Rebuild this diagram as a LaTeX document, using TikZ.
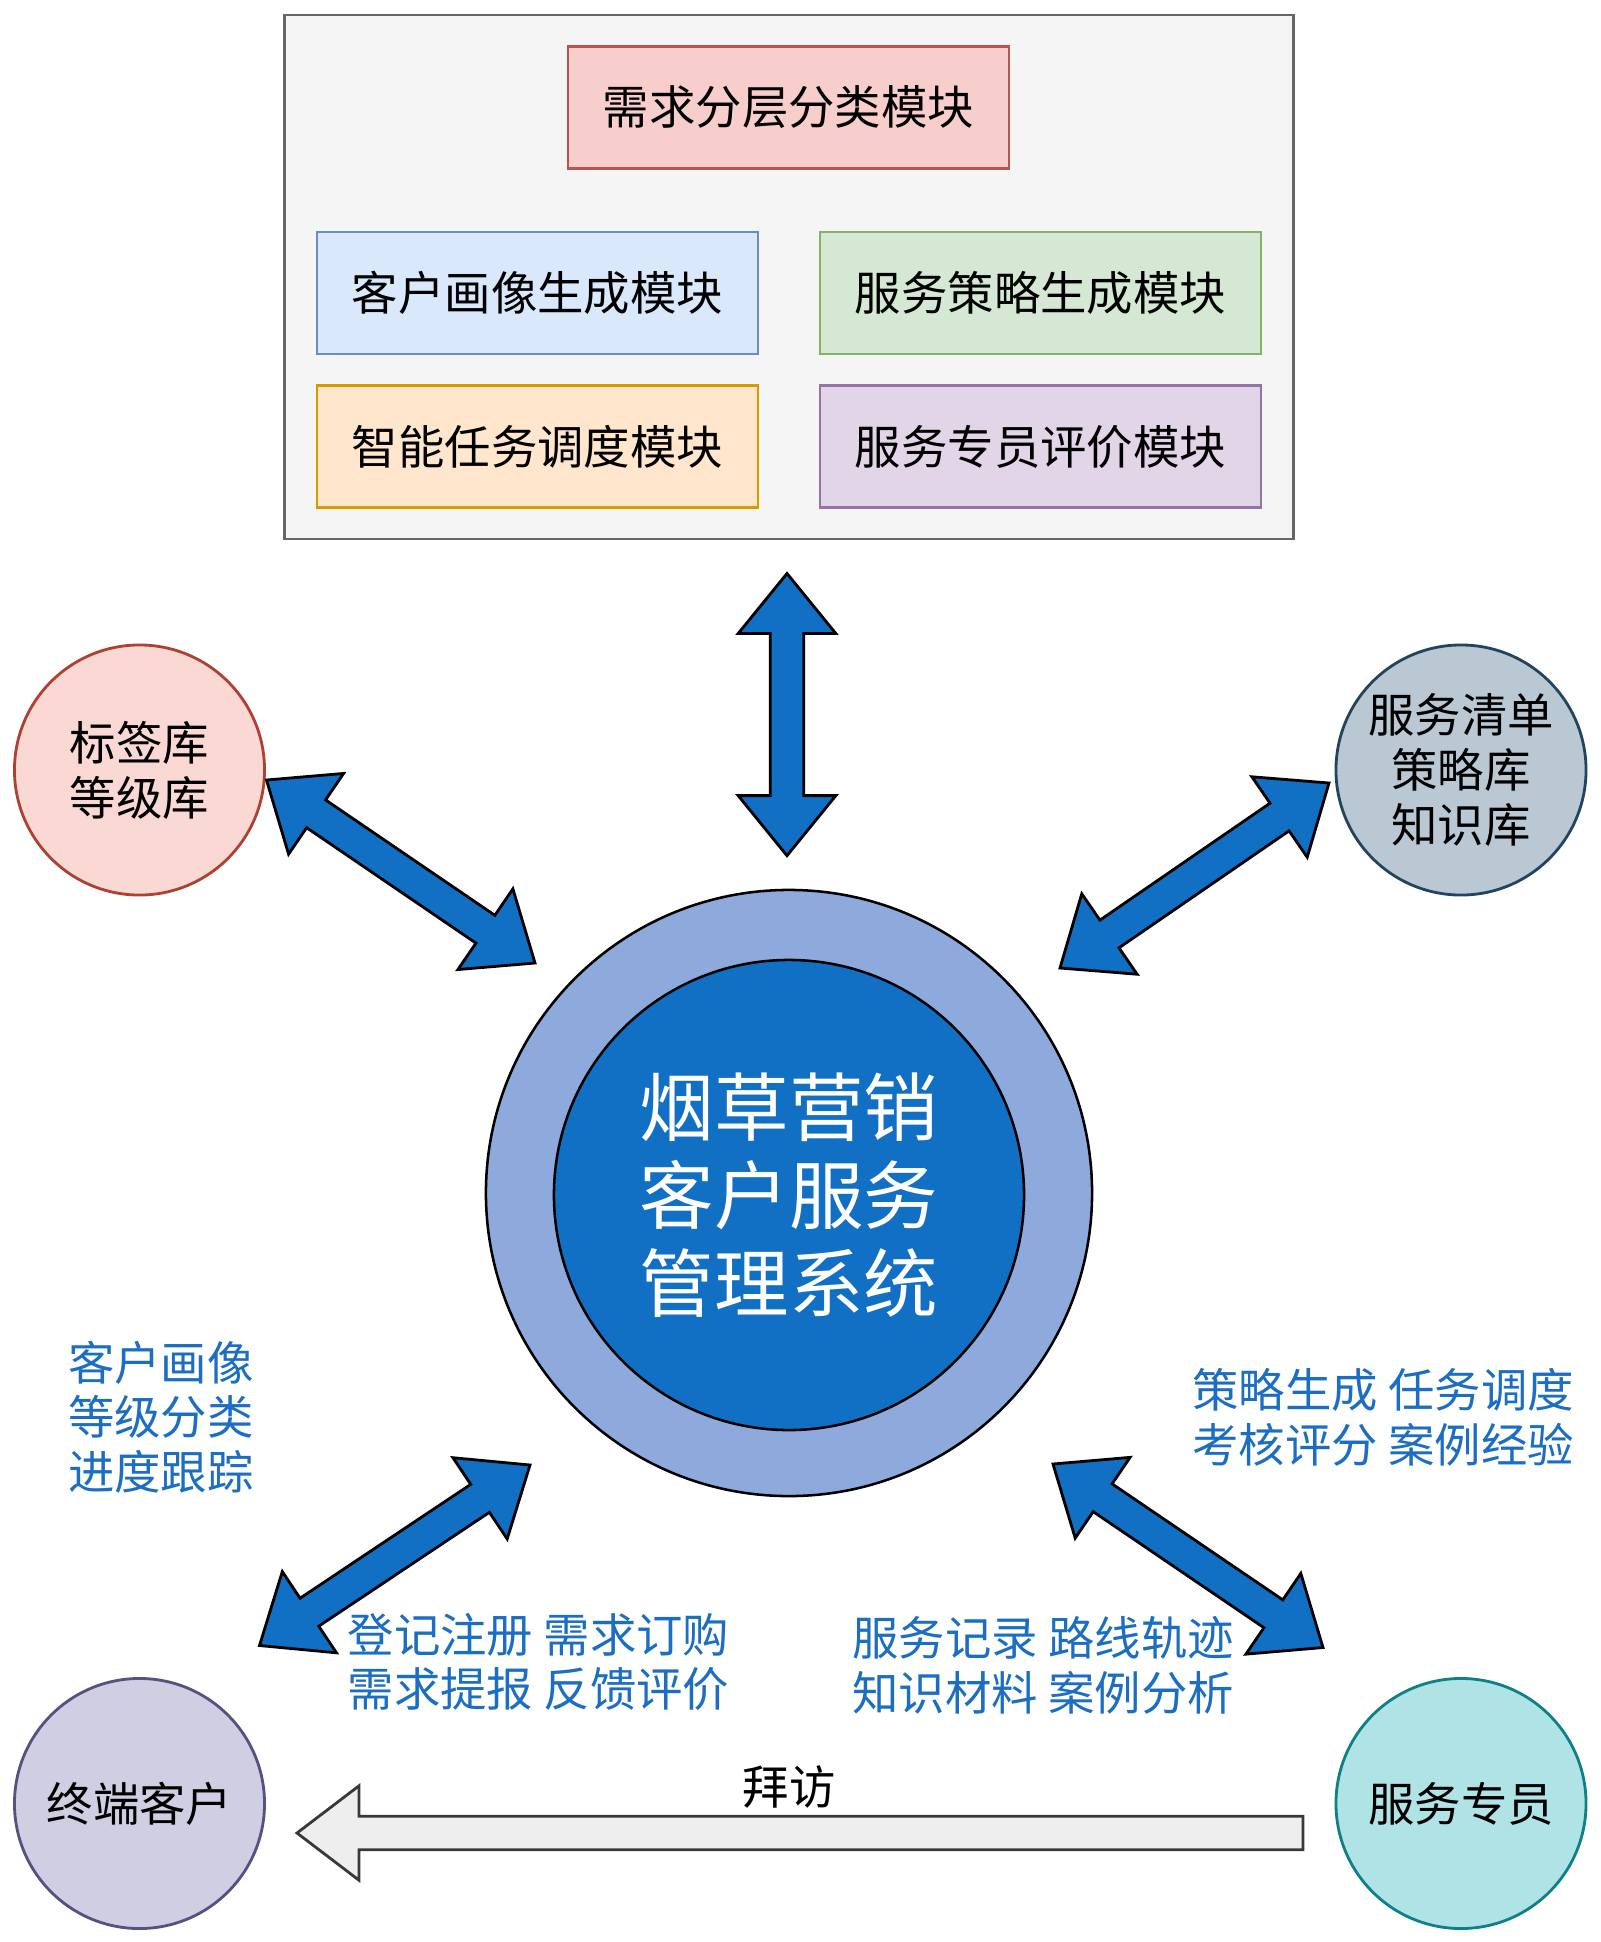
\documentclass[tikz,border=0pt]{standalone}
\usepackage{fontspec}
\setmainfont{Noto Sans CJK SC}
\usetikzlibrary{calc}

\definecolor{framefill}{HTML}{F5F5F5}
\definecolor{framegray}{HTML}{666666}
\definecolor{sysblue}{HTML}{1170C4}
\definecolor{ringblue}{HTML}{8EA9DB}
\definecolor{noteblue}{HTML}{1B6EC2}
\definecolor{visitgray}{HTML}{EEEEEE}
\definecolor{visitline}{HTML}{36393D}
\definecolor{redline}{HTML}{B85450}
\definecolor{redfill}{HTML}{F8CECC}
\definecolor{blueline}{HTML}{6C8EBF}
\definecolor{bluefill}{HTML}{DAE8FC}
\definecolor{greenline}{HTML}{82B366}
\definecolor{greenfill}{HTML}{D5E8D4}
\definecolor{orangeline}{HTML}{D79B00}
\definecolor{orangefill}{HTML}{FFE6CC}
\definecolor{purpleline}{HTML}{9673A6}
\definecolor{purplefill}{HTML}{E1D5E7}
\definecolor{libline}{HTML}{AE4132}
\definecolor{libfill}{HTML}{FAD9D5}
\definecolor{stockline}{HTML}{23445D}
\definecolor{stockfill}{HTML}{BAC8D3}
\definecolor{custline}{HTML}{56517E}
\definecolor{custfill}{HTML}{D0CEE2}
\definecolor{staffline}{HTML}{0E8088}
\definecolor{stafffill}{HTML}{B0E3E6}

% fat double arrow between two named points
\newcommand{\fatarrow}[3][]{%
  \draw[fat,#1] let \p1=($(#3)-(#2)$), \n1={atan2(\y1,\x1)},
      \n2={\n1+90}, \n3={\n1-90}, \n4={\n1+180} in
    (#2) -- ($(#2)+(\n1:1.5cm)+(\n2:1.22cm)$) -- ($(#2)+(\n1:1.5cm)+(\n2:0.42cm)$)
    -- ($(#3)+(\n4:1.5cm)+(\n2:0.42cm)$) -- ($(#3)+(\n4:1.5cm)+(\n2:1.22cm)$)
    -- (#3) -- ($(#3)+(\n4:1.5cm)+(\n3:1.22cm)$) -- ($(#3)+(\n4:1.5cm)+(\n3:0.42cm)$)
    -- ($(#2)+(\n1:1.5cm)+(\n3:0.42cm)$) -- ($(#2)+(\n1:1.5cm)+(\n3:1.22cm)$) -- cycle;
}
% fat single arrow, tail at #2, tip at #3
\newcommand{\tailarrow}[3][]{%
  \draw[fat,#1] let \p1=($(#3)-(#2)$), \n1={atan2(\y1,\x1)},
      \n2={\n1+90}, \n3={\n1-90}, \n4={\n1+180} in
    ($(#2)+(\n2:0.42cm)$) -- ($(#3)+(\n4:1.55cm)+(\n2:0.42cm)$)
    -- ($(#3)+(\n4:1.55cm)+(\n2:1.18cm)$) -- (#3)
    -- ($(#3)+(\n4:1.55cm)+(\n3:1.18cm)$) -- ($(#3)+(\n4:1.55cm)+(\n3:0.42cm)$)
    -- ($(#2)+(\n3:0.42cm)$) -- cycle;
}

\begin{document}
\begin{tikzpicture}[x=0.025cm, y=-0.025cm,
    every node/.style={font=\fontsize{33}{39}\selectfont},
    frame/.style={draw=framegray, fill=framefill, line width=2pt,
                  minimum width=25.2cm, minimum height=13.1cm},
    module/.style 2 args={draw=#1, fill=#2, line width=1.5pt,
                  minimum width=11.03cm, minimum height=3.05cm},
    store/.style 2 args={circle, draw=#1, fill=#2, line width=2pt,
                  minimum size=6.25cm, inner sep=0pt, align=center},
    ring/.style={circle, draw=black, fill=ringblue, line width=1.8pt,
                  minimum size=15.15cm},
    core/.style={circle, draw=black, fill=sysblue, line width=1.8pt,
                  minimum size=11.75cm, text=white, align=center,
                  font=\fontsize{53}{62.6}\selectfont},
    note/.style={text=noteblue, align=left},
    fat/.style={draw=black, fill=sysblue, line width=2pt, line join=miter},
  ]
  \useasboundingbox (0,0) rectangle (1600,1942);

  % module frame
  \node[frame] (frame) at (789,277) {};
  \node[module={redline}{redfill}]       (need)     at (788.5,107.5) {需求分层分类模块};
  \node[module={blueline}{bluefill}]     (portrait) at (537.5,293)   {客户画像生成模块};
  \node[module={greenline}{greenfill}]   (strategy) at (1040.5,293)  {服务策略生成模块};
  \node[module={orangeline}{orangefill}] (dispatch) at (537.5,446.5) {智能任务调度模块};
  \node[module={purpleline}{purplefill}] (evaluate) at (1040.5,446.5){服务专员评价模块};

  % system in the middle
  \node[ring] (ring) at (789,1193) {};
  \node[core] (sys)  at (789,1195) {烟草营销\\客户服务\\管理系统};

  % libraries and roles
  \node[store={libline}{libfill}]     (lib)   at (139.5,770)   {标签库\\等级库};
  \node[store={stockline}{stockfill}] (stock) at (1461,770)    {服务清单\\策略库\\知识库};
  \node[store={custline}{custfill}]   (cust)  at (139.5,1803.5){终端客户};
  \node[store={staffline}{stafffill}] (staff) at (1461,1803.5) {服务专员};

  % notes
  \node[note] (n1) at (161,1417)  {客户画像\\等级分类\\进度跟踪};
  \node[note] (n2) at (538.5,1662){登记注册 需求订购\\需求提报 反馈评价};
  \node[note] (n3) at (1043,1665) {服务记录 路线轨迹\\知识材料 案例分析};
  \node[note] (n4) at (1383,1417) {策略生成 任务调度\\考核评分 案例经验};

  % arrow ends
  \coordinate (upA) at ($(frame.south)+(-2,33)$);
  \coordinate (upB) at ($(ring.north)+(-2,-33)$);
  \coordinate (tlA) at ($(lib)+(127,10)$);
  \coordinate (tlB) at ($(ring)+(-254,-230)$);
  \coordinate (trA) at ($(stock)+(-132,13)$);
  \coordinate (trB) at ($(ring)+(271,-225)$);
  \coordinate (blA) at ($(cust)+(120,-158)$);
  \coordinate (blB) at ($(ring)+(-259,272)$);
  \coordinate (brA) at ($(ring)+(264,271)$);
  \coordinate (brB) at ($(staff)+(-138,-156)$);
  \coordinate (vA)  at ($(staff)+(-158,29.5)$);
  \coordinate (vB)  at ($(cust)+(157.5,29.5)$);

  \fatarrow{upA}{upB}
  \fatarrow{tlA}{tlB}
  \fatarrow{trA}{trB}
  \fatarrow{blA}{blB}
  \fatarrow{brA}{brB}
  \tailarrow[fill=visitgray, draw=visitline]{vA}{vB}
  \node (visit) at (789,1787) {拜访};
\end{tikzpicture}
\end{document}
